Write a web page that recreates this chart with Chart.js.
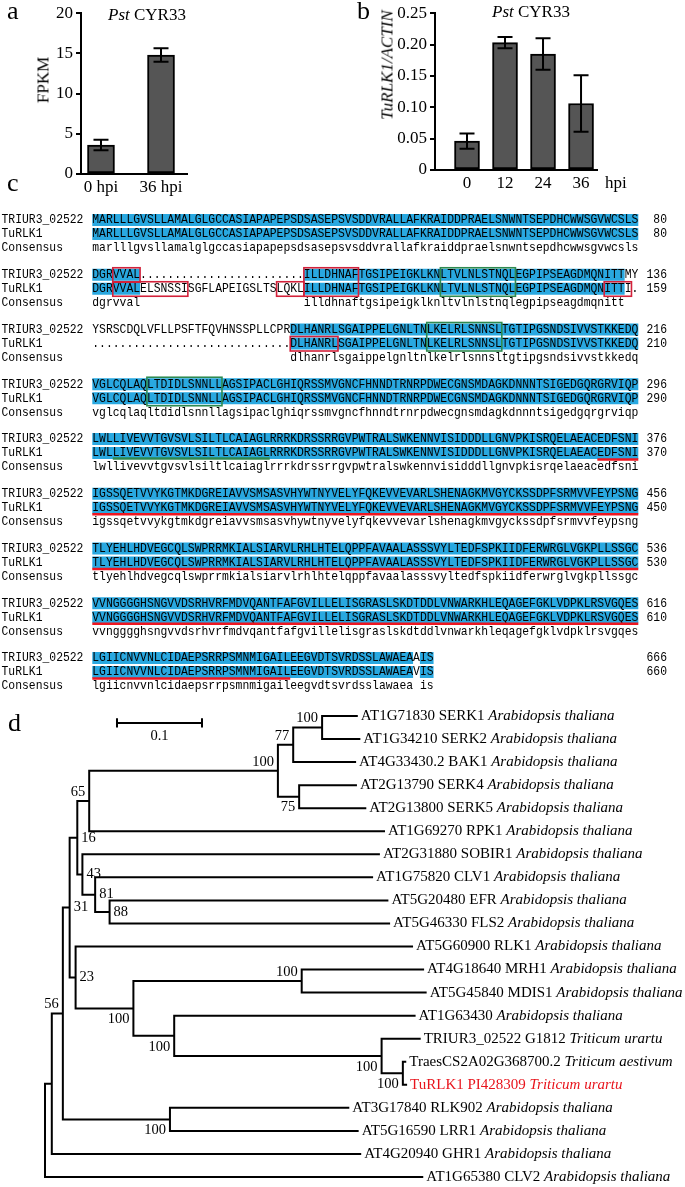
<!DOCTYPE html>
<html lang="en">
<head>
<meta charset="UTF-8">
<title>TuRLK1 expression, alignment and phylogeny</title>
<script src="https://cdn.jsdelivr.net/npm/chart.js"></script>
<style>
    body { margin: 0; background: #fff; }
    #page { position: relative; width: 685px; height: 1187px; overflow: hidden; }
    canvas { position: absolute; }
    .t {
        position: absolute;
        white-space: nowrap;
        line-height: 1;
        font-family: "Liberation Serif", serif;
        color: #000;
    }
    .panel { font-size: 26px; }
    .title { font-size: 17px; }
    .ylab { font-size: 17px; transform: translate(-50%, -50%) rotate(-90deg); }
</style>
</head>
<body>
<div id="page">
    <canvas id="chartA" width="200" height="200" style="left:0;top:0"></canvas>
    <canvas id="chartB" width="355" height="200" style="left:330px;top:0"></canvas>
    <canvas id="chartC" width="685" height="495" style="left:0;top:200px"></canvas>
    <canvas id="chartD" width="685" height="497" style="left:0;top:690px"></canvas>

    <div class="t panel" style="left:7px;top:-2px">a</div>
    <div class="t panel" style="left:357px;top:-2px">b</div>
    <div class="t panel" style="left:7px;top:170px">c</div>
    <div class="t panel" style="left:8px;top:710px">d</div>

    <div class="t title" style="left:108px;top:6px"><i>Pst</i> CYR33</div>
    <div class="t title" style="left:492px;top:3px"><i>Pst</i> CYR33</div>
    <div class="t title" style="left:605px;top:174px">hpi</div>
    <div class="t ylab" style="left:43px;top:80px">FPKM</div>
    <div class="t ylab" style="left:387px;top:65px"><i>TuRLK1/ACTIN</i></div>
</div>

<script>
    // ---- panel a: FPKM of TuRLK1 ----
    const A_CATS = ['0 hpi', '36 hpi'];
    const A_FPKM = [3.6, 14.8];
    const A_ERR = [0.65, 0.85];
    const A_TICKS = ['0', '5', '10', '15', '20'];

    // ---- panel b: qRT-PCR TuRLK1/ACTIN ----
    const B_CATS = ['0', '12', '24', '36'];
    const B_RATIO = [0.046, 0.203, 0.185, 0.106];
    const B_ERR = [0.012, 0.009, 0.025, 0.045];
    const B_TICKS = ['0', '0.05', '0.10', '0.15', '0.20', '0.25'];

    // ---- panel c: alignment ----
    const SEQ_NAMES = ['TRIUR3_02522', 'TuRLK1', 'Consensus'];
    const TRIUR3_ROWS = [
        'MARLLLGVSLLAMALGLGCCASIAPAPEPSDSASEPSVSDDVRALLAFKRAIDDPRAELSNWNTSEPDHCWWSGVWCSLS',
        'DGRVVAL' + '.'.repeat(24) + 'ILLDHNAFTGSIPEIGKLKNLTVLNLSTNQLEGPIPSEAGDMQNITTMY',
        'YSRSCDQLVFLLPSFTFQVHNSSPLLCPRDLHANRLSGAIPPELGNLTNLKELRLSNNSLTGTIPGSNDSIVVSTKKEDQ',
        'VGLCQLAQLTDIDLSNNLLAGSIPACLGHIQRSSMVGNCFHNNDTRNRPDWECGNSMDAGKDNNNTSIGEDGQRGRVIQP',
        'LWLLIVEVVTGVSVLSILTLCAIAGLRRRKDRSSRRGVPWTRALSWKENNVISIDDDLLGNVPKISRQELAEACEDFSNI',
        'IGSSQETVVYKGTMKDGREIAVVSMSASVHYWTNYVELYFQKEVVEVARLSHENAGKMVGYCKSSDPFSRMVVFEYPSNG',
        'TLYEHLHDVEGCQLSWPRRMKIALSIARVLRHLHTELQPPFAVAALASSSVYLTEDFSPKIIDFERWRGLVGKPLLSSGC',
        'VVNGGGGHSNGVVDSRHVRFMDVQANTFAFGVILLELISGRASLSKDTDDLVNWARKHLEQAGEFGKLVDPKLRSVGQES',
        'LGIICNVVNLCIDAEPSRRPSMNMIGAILEEGVDTSVRDSSLAWAEAAIS'
    ];
    const TURLK1_ROWS = [
        'MARLLLGVSLLAMALGLGCCASIAPAPEPSDSASEPSVSDDVRALLAFKRAIDDPRAELSNWNTSEPDHCWWSGVWCSLS',
        'DGRVVALELSNSSISGFLAPEIGSLTSLQKLILLDHNAFTGSIPEIGKLKNLTVLNLSTNQLEGPIPSEAGDMQNITTI.',
        '.'.repeat(29) + 'DLHANRLSGAIPPELGNLTNLKELRLSNNSLTGTIPGSNDSIVVSTKKEDQ',
        'VGLCQLAQLTDIDLSNNLLAGSIPACLGHIQRSSMVGNCFHNNDTRNRPDWECGNSMDAGKDNNNTSIGEDGQRGRVIQP',
        'LWLLIVEVVTGVSVLSILTLCAIAGLRRRKDRSSRRGVPWTRALSWKENNVISIDDDLLGNVPKISRQELAEACEDFSNI',
        'IGSSQETVVYKGTMKDGREIAVVSMSASVHYWTNYVELYFQKEVVEVARLSHENAGKMVGYCKSSDPFSRMVVFEYPSNG',
        'TLYEHLHDVEGCQLSWPRRMKIALSIARVLRHLHTELQPPFAVAALASSSVYLTEDFSPKIIDFERWRGLVGKPLLSSGC',
        'VVNGGGGHSNGVVDSRHVRFMDVQANTFAFGVILLELISGRASLSKDTDDLVNWARKHLEQAGEFGKLVDPKLRSVGQES',
        'LGIICNVVNLCIDAEPSRRPSMNMIGAILEEGVDTSVRDSSLAWAEAVIS'
    ];
    const TRIUR3_ENDS = [80, 136, 216, 296, 376, 456, 536, 616, 666];
    const TURLK1_ENDS = [80, 159, 210, 290, 370, 450, 530, 610, 660];
    // [block, first row, last row, first residue column, last residue column]
    const RED_BOXES = [[1, 0, 0, 3, 6], [1, 1, 1, 3, 13], [1, 1, 1, 27, 30], [1, 0, 1, 31, 38], [1, 1, 1, 75, 78], [2, 1, 1, 29, 35]];
    const GREEN_BOXES = [[1, 0, 1, 51, 61], [2, 0, 1, 49, 59], [3, 0, 1, 8, 18]];
    // [block, first column, last column] underlined under TuRLK1
    const GREEN_LINES = [[4, 3, 25]];
    const RED_LINES = [[4, 74, 79], [5, 0, 79], [6, 0, 79], [7, 0, 79], [8, 0, 28]];

    // ---- panel d: neighbour-joining tree ----
    const LEAF_IDS = ['AT1G71830 SERK1', 'AT1G34210 SERK2', 'AT4G33430.2 BAK1', 'AT2G13790 SERK4',
        'AT2G13800 SERK5', 'AT1G69270 RPK1', 'AT2G31880 SOBIR1', 'AT1G75820 CLV1', 'AT5G20480 EFR',
        'AT5G46330 FLS2', 'AT5G60900 RLK1', 'AT4G18640 MRH1', 'AT5G45840 MDIS1', 'AT1G63430',
        'TRIUR3_02522 G1812', 'TraesCS2A02G368700.2', 'TuRLK1 PI428309', 'AT3G17840 RLK902',
        'AT5G16590 LRR1', 'AT4G20940 GHR1', 'AT1G65380 CLV2'];
    const LEAF_SPECIES = ['Arabidopsis thaliana', 'Arabidopsis thaliana', 'Arabidopsis thaliana',
        'Arabidopsis thaliana', 'Arabidopsis thaliana', 'Arabidopsis thaliana', 'Arabidopsis thaliana',
        'Arabidopsis thaliana', 'Arabidopsis thaliana', 'Arabidopsis thaliana', 'Arabidopsis thaliana',
        'Arabidopsis thaliana', 'Arabidopsis thaliana', 'Arabidopsis thaliana', 'Triticum urartu',
        'Triticum aestivum', 'Triticum urartu', 'Arabidopsis thaliana', 'Arabidopsis thaliana',
        'Arabidopsis thaliana', 'Arabidopsis thaliana'];
    // distance from the root
    const LEAF_DEPTH = [0.368, 0.371, 0.366, 0.367, 0.378, 0.400, 0.394, 0.386, 0.404, 0.406, 0.433,
        0.446, 0.449, 0.436, 0.442, 0.425, 0.426, 0.358, 0.369, 0.372, 0.445];
    const NODE_CHILDREN = [['L0', 'L1'], ['N0', 'L2'], ['L3', 'L4'], ['N1', 'N2'], ['N3', 'L5'],
        ['L8', 'L9'], ['L7', 'N5'], ['L6', 'N6'], ['N4', 'N7'], ['L11', 'L12'], ['L15', 'L16'],
        ['L14', 'N10'], ['L13', 'N11'], ['N9', 'N12'], ['L10', 'N13'], ['N8', 'N14'], ['L17', 'L18'],
        ['N15', 'N16'], ['N17', 'L19'], ['N18', 'L20']];
    const NODE_DEPTH = [0.326, 0.292, 0.299, 0.274, 0.052, 0.076, 0.059, 0.044, 0.038, 0.302, 0.421,
        0.396, 0.152, 0.104, 0.036, 0.029, 0.147, 0.021, 0.008, 0];
    const NODE_SUPPORT = [100, 77, 75, 100, 65, 88, 81, 43, 16, 100, 100, 100, 100, 100, 23, 31, 100, 56, null, null];
    const SCALE_BAR_LEN = 0.1;
    const RED_LEAF = 16;

    // ---- style / layout ----
    const BAR_FILL = '#555555';
    const SERIF = '"Liberation Serif", serif';
    const SEQ_FONT = '13px "Liberation Mono", monospace';
    const SEQ_SX = 0.875;   // squeeze the mono glyphs horizontally to the column pitch
    const SEQ_BLUE = '#29a8e0';
    const BOX_RED = '#d3213a';
    const BOX_GREEN = '#2e8a50';
    const LINE_RED = '#ee1620';
    const C_X0 = 92.3, C_CW = 6.825, C_Y0 = 20, C_BLOCK = 54.75, C_H = 495;
    const ROW_STEP = 14 / C_BLOCK;
    const NAME_COL = -13.3, COUNT_COL = 84.2, HL_HALF = 6;
    const D_ROOT = 45, D_UNIT = 850, D_LEAF0 = 26, D_STEP = 23.05, D_H = 497;
    const NODE_LABEL_POS = ['al', 'al', 'bl', 'al', 'al', 'r', 'r', 'r', 'r', 'al', 'bl', 'bl', 'bl', 'bl', 'r', 'r', 'bl', 'al', null, null];
    const SB_X = 0.0847, SB_Y = 0.3;

    Chart.defaults.font.family = SERIF;
    Chart.defaults.color = '#000';

    function makeErrorBars(errors, cap) {
        return {
            id: 'errorBars',
            afterDatasetsDraw(chart) {
                const ctx = chart.ctx, ys = chart.scales.y;
                const values = chart.data.datasets[0].data;
                ctx.save();
                ctx.strokeStyle = '#000';
                ctx.lineWidth = 2;
                chart.getDatasetMeta(0).data.forEach((bar, i) => {
                    const top = ys.getPixelForValue(values[i].y + errors[i]);
                    const bot = ys.getPixelForValue(values[i].y - errors[i]);
                    ctx.beginPath();
                    ctx.moveTo(bar.x, top); ctx.lineTo(bar.x, bot);
                    ctx.moveTo(bar.x - cap, top); ctx.lineTo(bar.x + cap, top);
                    ctx.moveTo(bar.x - cap, bot); ctx.lineTo(bar.x + cap, bot);
                    ctx.stroke();
                });
                ctx.restore();
            }
        };
    }

    function barChart(id, cats, values, errors, ticks, cfg) {
        return new Chart(document.getElementById(id), {
            type: 'bar',
            data: {
                datasets: [{
                    data: values.map((v, i) => ({x: i, y: v})),
                    backgroundColor: BAR_FILL,
                    borderColor: '#000',
                    borderWidth: 2,
                    borderSkipped: false,
                    barThickness: cfg.barWidth
                }]
            },
            options: {
                responsive: false,
                animation: false,
                events: [],
                layout: {padding: {top: cfg.top, right: cfg.right, left: 0, bottom: 0}},
                plugins: {legend: {display: false}, tooltip: {enabled: false}},
                scales: {
                    x: {
                        type: 'linear',
                        offset: false,
                        min: cfg.xmin,
                        max: cfg.xmax,
                        afterBuildTicks: s => { s.ticks = cats.map((c, i) => ({value: i})); },
                        ticks: {
                            callback: (v, i) => cats[i],
                            font: {size: 17},
                            color: '#000',
                            padding: 3,
                            maxRotation: 0,
                            autoSkip: false
                        },
                        grid: {display: false, drawTicks: false},
                        border: {color: '#000', width: 2},
                        afterFit: s => { s.height = cfg.xh; }
                    },
                    y: {
                        min: 0,
                        max: parseFloat(ticks[ticks.length - 1]),
                        afterBuildTicks: s => { s.ticks = ticks.map(t => ({value: parseFloat(t)})); },
                        ticks: {
                            callback: (v, i) => ticks[i],
                            font: {size: 17},
                            color: '#000',
                            padding: 3
                        },
                        grid: {drawOnChartArea: false, drawTicks: true, tickLength: 5, color: '#000', lineWidth: 2},
                        border: {color: '#000', width: 2},
                        afterFit: s => { s.width = cfg.yw; }
                    }
                }
            },
            plugins: [makeErrorBars(errors, cfg.cap)]
        });
    }

    barChart('chartA', A_CATS, A_FPKM, A_ERR, A_TICKS,
        {barWidth: 27, top: 13, right: 13, xmin: -0.333, xmax: 1.433, xh: 26, yw: 81, cap: 7.5});
    barChart('chartB', B_CATS, B_RATIO, B_ERR, B_TICKS,
        {barWidth: 25, top: 11, right: 88, xmin: -0.842, xmax: 3.42, xh: 30, yw: 105, cap: 7.5});

    // ---- panel c ----
    function consensusOf(a, b) {
        let s = '';
        for (let i = 0; i < a.length; i++) {
            s += (a[i] === b[i] && a[i] !== '.') ? a[i].toLowerCase() : ' ';
        }
        return s;
    }

    // text drawn with a horizontal squeeze so the glyphs are as tall as in the figure
    function squeezedText(ctx, text, x, y, align) {
        ctx.save();
        ctx.translate(x, y);
        ctx.scale(SEQ_SX, 1);
        ctx.textAlign = align;
        ctx.fillText(text, 0, 0);
        ctx.restore();
    }

    const alignmentPlugin = {
        id: 'alignment',
        afterDraw(chart) {
            const {ctx, scales: {x, y}} = chart;
            const colL = c => x.getPixelForValue(c);
            const rowY = (b, r) => y.getPixelForValue(b + r * ROW_STEP);
            ctx.save();
            TRIUR3_ROWS.forEach((top, b) => {
                const bot = TURLK1_ROWS[b];
                const cons = consensusOf(top, bot);
                ctx.fillStyle = SEQ_BLUE;
                for (let c = 0; c < cons.length; c++) {
                    if (cons[c] === ' ') continue;
                    let e = c;
                    while (e + 1 < cons.length && cons[e + 1] !== ' ') e++;
                    [0, 1].forEach(r => ctx.fillRect(colL(c), rowY(b, r) - HL_HALF, colL(e + 1) - colL(c), 2 * HL_HALF));
                    c = e;
                }
                ctx.font = SEQ_FONT;
                ctx.textBaseline = 'middle';
                ctx.fillStyle = '#000';
                [top, bot, cons].forEach((s, r) => {
                    const yy = rowY(b, r);
                    squeezedText(ctx, SEQ_NAMES[r], colL(NAME_COL), yy, 'left');
                    for (let c = 0; c < s.length; c++) {
                        if (s[c] !== ' ') squeezedText(ctx, s[c], colL(c + 0.5), yy, 'center');
                    }
                });
                squeezedText(ctx, String(TRIUR3_ENDS[b]), colL(COUNT_COL), rowY(b, 0), 'right');
                squeezedText(ctx, String(TURLK1_ENDS[b]), colL(COUNT_COL), rowY(b, 1), 'right');
            });
            const boxes = (list, color) => {
                ctx.strokeStyle = color;
                ctx.lineWidth = 1.6;
                list.forEach(([b, r0, r1, c0, c1]) => {
                    const x0 = colL(c0), x1 = colL(c1 + 1);
                    const y0 = rowY(b, r0) - 7, y1 = rowY(b, r1) + 7.5;
                    ctx.strokeRect(x0, y0, x1 - x0, y1 - y0);
                });
            };
            boxes(RED_BOXES, BOX_RED);
            boxes(GREEN_BOXES, BOX_GREEN);
            const lines = (list, color, dy) => {
                ctx.strokeStyle = color;
                ctx.lineWidth = 2.5;
                list.forEach(([b, c0, c1]) => {
                    const yy = rowY(b, 1) + dy;
                    ctx.beginPath();
                    ctx.moveTo(colL(c0), yy);
                    ctx.lineTo(colL(c1 + 1), yy);
                    ctx.stroke();
                });
            };
            lines(GREEN_LINES, BOX_GREEN, 5.5);
            lines(RED_LINES, LINE_RED, 6.5);
            ctx.restore();
        }
    };

    new Chart(document.getElementById('chartC'), {
        type: 'scatter',
        data: {datasets: []},
        options: {
            responsive: false,
            animation: false,
            events: [],
            layout: {padding: 0},
            plugins: {legend: {display: false}, tooltip: {enabled: false}},
            scales: {
                x: {type: 'linear', display: false, min: -C_X0 / C_CW, max: (685 - C_X0) / C_CW},
                y: {type: 'linear', display: false, reverse: true, min: -C_Y0 / C_BLOCK, max: (C_H - C_Y0) / C_BLOCK}
            }
        },
        plugins: [alignmentPlugin]
    });

    // ---- panel d ----
    const nodePos = {};
    LEAF_DEPTH.forEach((d, i) => { nodePos['L' + i] = {x: d, y: i}; });
    NODE_CHILDREN.forEach((ch, i) => {
        const a = nodePos[ch[0]], b = nodePos[ch[1]];
        nodePos['N' + i] = {x: NODE_DEPTH[i], y: (a.y + b.y) / 2};
    });

    const lineSet = pts => ({
        data: pts, showLine: true, borderColor: '#000', borderWidth: 2,
        pointRadius: 0, tension: 0, fill: false, clip: false
    });
    const treeSets = NODE_CHILDREN.map((ch, i) => {
        const n = nodePos['N' + i], a = nodePos[ch[0]], b = nodePos[ch[1]];
        return lineSet([{x: a.x, y: a.y}, {x: n.x, y: a.y}, {x: n.x, y: b.y}, {x: b.x, y: b.y}]);
    });
    treeSets.push(lineSet([{x: SB_X, y: SB_Y}, {x: SB_X + SCALE_BAR_LEN, y: SB_Y}]));
    treeSets.push(lineSet([{x: SB_X, y: SB_Y - 0.2}, {x: SB_X, y: SB_Y + 0.2}]));
    treeSets.push(lineSet([{x: SB_X + SCALE_BAR_LEN, y: SB_Y - 0.2}, {x: SB_X + SCALE_BAR_LEN, y: SB_Y + 0.2}]));

    const treeLabels = {
        id: 'treeLabels',
        afterDraw(chart) {
            const {ctx, scales: {x, y}} = chart;
            ctx.save();
            ctx.textBaseline = 'middle';
            LEAF_IDS.forEach((id, i) => {
                const px = x.getPixelForValue(LEAF_DEPTH[i]) + 3, py = y.getPixelForValue(i);
                ctx.fillStyle = i === RED_LEAF ? '#e8141c' : '#000';
                ctx.textAlign = 'left';
                ctx.font = '15px ' + SERIF;
                ctx.fillText(id + ' ', px, py);
                const w = ctx.measureText(id + ' ').width;
                ctx.font = 'italic 15px ' + SERIF;
                ctx.fillText(LEAF_SPECIES[i], px + w, py);
            });
            ctx.font = '14.5px ' + SERIF;
            ctx.fillStyle = '#000';
            NODE_SUPPORT.forEach((s, i) => {
                if (s === null) return;
                const n = nodePos['N' + i];
                const px = x.getPixelForValue(n.x), py = y.getPixelForValue(n.y);
                const p = NODE_LABEL_POS[i];
                if (p === 'r') {
                    ctx.textAlign = 'left';
                    ctx.fillText(String(s), px + 4, py);
                } else {
                    ctx.textAlign = 'right';
                    ctx.fillText(String(s), px - 4, p === 'al' ? py - 9 : py + 11);
                }
            });
            ctx.textAlign = 'center';
            ctx.fillText(String(SCALE_BAR_LEN), x.getPixelForValue(SB_X + SCALE_BAR_LEN / 2), y.getPixelForValue(SB_Y) + 13);
            ctx.restore();
        }
    };

    new Chart(document.getElementById('chartD'), {
        type: 'scatter',
        data: {datasets: treeSets},
        options: {
            responsive: false,
            animation: false,
            events: [],
            layout: {padding: 0},
            plugins: {legend: {display: false}, tooltip: {enabled: false}},
            scales: {
                x: {type: 'linear', display: false, min: -D_ROOT / D_UNIT, max: (685 - D_ROOT) / D_UNIT},
                y: {type: 'linear', display: false, reverse: true, min: -D_LEAF0 / D_STEP, max: (D_H - D_LEAF0) / D_STEP}
            }
        },
        plugins: [treeLabels]
    });
</script>
</body>
</html>
